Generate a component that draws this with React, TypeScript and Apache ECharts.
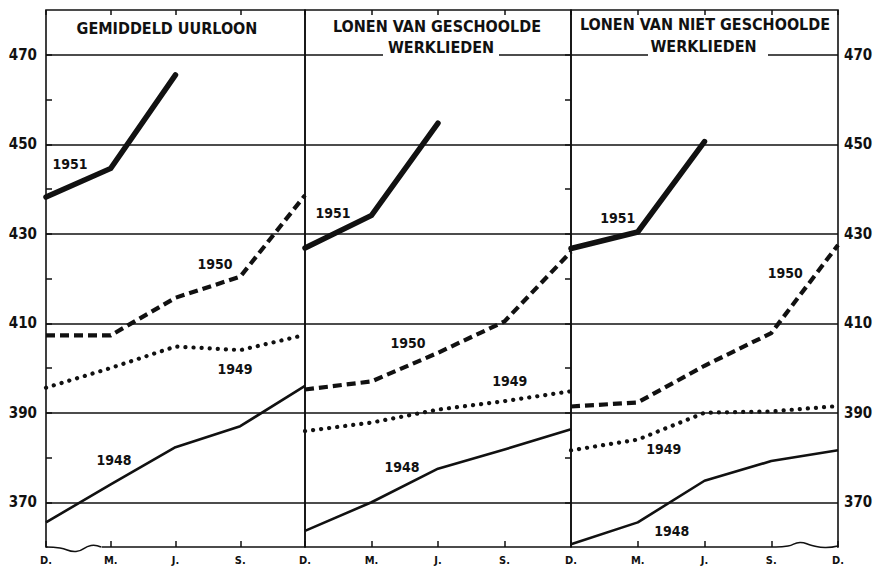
import React, { useEffect, useRef } from 'react';
import * as echarts from 'echarts';

// ---- data ----
const months = ['D.', 'M.', 'J.', 'S.', 'D.'];
const yearNames = ['1948', '1949', '1950', '1951'];
const yLabelValues = [370, 390, 410, 430, 450, 470];

// Gemiddeld uurloon
const uurloon1948 = [365.5, 374, 382.3, 387, 396];
const uurloon1949 = [395.6, 400, 404.8, 404, 407.4];
const uurloon1950 = [407.3, 407.3, 415.7, 420.4, 438.6];
const uurloon1951 = [438.2, 444.6, 465.5];

// Lonen van geschoolde werklieden
const geschoold1948 = [363.6, 370, 377.5, 381.8, 386.3];
const geschoold1949 = [385.9, 387.8, 390.7, 392.6, 394.8];
const geschoold1950 = [395.2, 397, 403.4, 410.4, 426];
const geschoold1951 = [426.8, 434.1, 454.7];

// Lonen van niet geschoolde werklieden
const ongeschoold1948 = [360.6, 365.5, 374.8, 379.2, 381.6];
const ongeschoold1949 = [381.6, 384, 390, 390.3, 391.5];
const ongeschoold1950 = [391.4, 392.3, 400.5, 407.8, 427.5];
const ongeschoold1951 = [426.7, 430.4, 450.6];

const panelTitles = [
  ['GEMIDDELD UURLOON'],
  ['LONEN VAN GESCHOOLDE', 'WERKLIEDEN'],
  ['LONEN VAN NIET GESCHOOLDE', 'WERKLIEDEN'],
];

const panelSeries = [
  [uurloon1948, uurloon1949, uurloon1950, uurloon1951],
  [geschoold1948, geschoold1949, geschoold1950, geschoold1951],
  [ongeschoold1948, ongeschoold1949, ongeschoold1950, ongeschoold1951],
];

// year label anchors (data coordinates: [month index, value])
const labelAnchors = [
  [[1.05, 379.4], [2.92, 399.8], [2.61, 423.2], [0.37, 445.6]],
  [[1.46, 377.8], [3.08, 397.1], [1.55, 405.6], [0.42, 434.6]],
  [[1.51, 363.6], [1.39, 381.8], [3.21, 421.2], [0.70, 433.5]],
];

// ---- layout / style ----
const FONT = "'DejaVu Sans Condensed', 'DejaVu Sans', sans-serif";
const INK = '#111';
const GRIDS = [
  { left: 46, width: 259 },
  { left: 305, width: 266 },
  { left: 571, width: 267 },
];
const TOP = 10;
const HEIGHT = 537;

const lineStyles: any[] = [
  { width: 2.6, type: 'solid', color: INK, join: 'round' },
  { width: 4.2, type: [0.1, 8], cap: 'round', color: INK },
  { width: 4.2, type: [9, 5], color: INK, join: 'miter' },
  { width: 5.5, type: 'solid', cap: 'round', join: 'miter', color: INK },
];

export default function App() {
  const ref = useRef<HTMLDivElement>(null);
  useEffect(() => {
    if (!ref.current) return;
    const chart = echarts.init(ref.current, undefined, { renderer: 'svg' });

    const grid = GRIDS.map((g) => ({
      left: g.left,
      width: g.width,
      top: TOP,
      height: HEIGHT,
      show: true,
      borderColor: INK,
      borderWidth: 1.6,
      backgroundColor: 'transparent',
    }));

    const xAxis: any[] = [];
    GRIDS.forEach((_, i) => {
      xAxis.push({
        type: 'value',
        gridIndex: i,
        min: 0,
        max: 4,
        interval: 1,
        position: 'bottom',
        axisLine: { show: false },
        axisTick: { show: true, inside: true, length: 6, lineStyle: { color: INK, width: 1.5 } },
        splitLine: { show: false },
        axisLabel: {
          color: INK,
          fontFamily: FONT,
          fontWeight: 'bold',
          fontSize: 11,
          margin: 8,
          showMaxLabel: i === 2,
          formatter: (v: number) => (i < 2 && v === 4 ? '' : months[v] || ''),
        },
      });
    });
    GRIDS.forEach((_, i) => {
      xAxis.push({
        type: 'value',
        gridIndex: i,
        min: 0,
        max: 4,
        interval: 1,
        position: 'top',
        axisLine: { show: false },
        axisTick: { show: true, inside: true, length: 5, lineStyle: { color: INK, width: 1.5 } },
        splitLine: { show: false },
        axisLabel: { show: false },
      });
    });

    const yAxis: any[] = GRIDS.map((_, i) => ({
      type: 'value',
      gridIndex: i,
      min: 360,
      max: 480,
      interval: 10,
      position: i === 2 ? 'right' : 'left',
      axisLine: { show: false },
      axisTick: {
        show: i !== 1,
        inside: true,
        length: 6,
        lineStyle: { color: INK, width: 1.5 },
      },
      splitLine: {
        show: true,
        lineStyle: { color: ['rgba(0,0,0,0)', INK], width: 1.6 },
      },
      axisLabel: {
        show: i !== 1,
        color: INK,
        fontFamily: FONT,
        fontWeight: 'bold',
        fontSize: 15,
        margin: i === 2 ? 6 : 9,
        showMinLabel: false,
        showMaxLabel: false,
        formatter: (v: number) => (yLabelValues.indexOf(v) >= 0 ? String(v) : ''),
      },
    }));

    const series: any[] = [];
    panelSeries.forEach((list, p) => {
      list.forEach((vals, k) => {
        series.push({
          type: 'line',
          name: yearNames[k] + '-' + p,
          xAxisIndex: p,
          yAxisIndex: p,
          data: vals.map((v, idx) => [idx, v]),
          symbol: 'none',
          silent: true,
          lineStyle: lineStyles[k],
          z: 5 + k,
          markPoint: {
            silent: true,
            symbol: 'circle',
            symbolSize: 0,
            data: [
              {
                coord: labelAnchors[p][k],
                label: {
                  show: true,
                  position: 'inside',
                  formatter: yearNames[k],
                  color: INK,
                  fontFamily: FONT,
                  fontWeight: 'bold',
                  fontSize: 14,
                },
              },
            ],
          },
        });
      });
    });

    const titleStyle = { fill: INK, font: `bold 16px ${FONT}`, textAlign: 'center', textVerticalAlign: 'middle' };
    const graphic: any[] = [
      { type: 'text', x: 167, y: 28, z: 110, style: { ...titleStyle, text: panelTitles[0][0] } },
      { type: 'text', x: 437, y: 26.5, z: 110, style: { ...titleStyle, text: panelTitles[1][0] } },
      { type: 'rect', z: 100, shape: { x: 383, y: 50, width: 116, height: 9 }, style: { fill: '#fff' } },
      { type: 'text', x: 441, y: 47.5, z: 110, style: { ...titleStyle, text: panelTitles[1][1] } },
      { type: 'text', x: 705, y: 24.5, z: 110, style: { ...titleStyle, text: panelTitles[2][0] } },
      { type: 'rect', z: 100, shape: { x: 648, y: 50, width: 120, height: 9 }, style: { fill: '#fff' } },
      { type: 'text', x: 703.5, y: 46, z: 110, style: { ...titleStyle, text: panelTitles[2][1] } },
      // axis-break wiggles
      { type: 'rect', z: 100, shape: { x: 47.5, y: 544, width: 54, height: 6 }, style: { fill: '#fff' } },
      {
        type: 'polyline', z: 110,
        shape: { points: [[46, 547], [60, 548], [76, 551.5], [91, 545.5], [101, 547]], smooth: 0.5 },
        style: { stroke: INK, lineWidth: 1.6, fill: null },
      },
      { type: 'rect', z: 100, shape: { x: 774, y: 544, width: 63, height: 6 }, style: { fill: '#fff' } },
      {
        type: 'polyline', z: 110,
        shape: { points: [[774, 547], [788, 546], [800, 542.5], [812, 545.5], [825, 547.5], [838, 546]], smooth: 0.5 },
        style: { stroke: INK, lineWidth: 1.6, fill: null },
      },
    ];

    chart.setOption({
      animation: false,
      backgroundColor: '#fff',
      grid,
      xAxis,
      yAxis,
      series,
      graphic,
    });
    return () => chart.dispose();
  }, []);

  return (
    <div
      ref={ref}
      style={{ position: 'fixed', left: 0, top: 0, width: 877, height: 570, background: '#fff' }}
    />
  );
}
